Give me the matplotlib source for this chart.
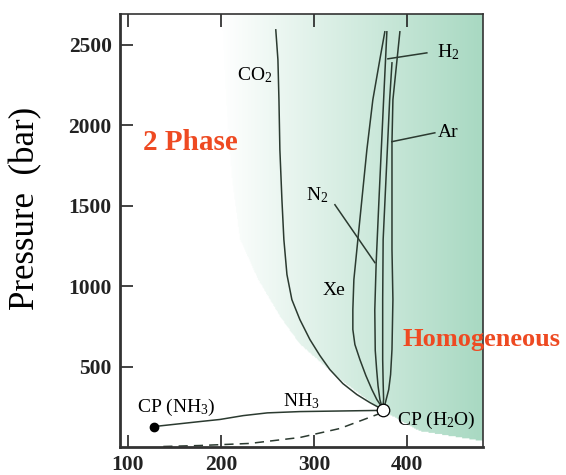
'''
plot.py

Phase diagram of water + gas binaries (critical curves).
'''

import matplotlib as mpl
import matplotlib.pyplot as plt
import numpy as np

mpl.rcParams['font.family']      = 'serif'
mpl.rcParams['font.serif']       = ['Liberation Serif', 'DejaVu Serif']
mpl.rcParams['mathtext.fontset'] = 'custom'
mpl.rcParams['mathtext.rm']      = 'Liberation Serif'
mpl.rcParams['mathtext.it']      = 'Liberation Serif:italic'

# ---------------------------------------------------------------------------- #
# data (temperature in C, pressure in bar)

T_co2 = [259, 261.3, 262.4, 263.4, 265.6, 267.7, 271, 276.3, 284.9, 295.7,
         306.5, 317.2, 331.2, 346.2, 360.2, 372]
P_co2 = [2593, 2407, 2158, 1848, 1537, 1289, 1072, 916, 792, 668, 568, 481,
         394, 326, 276, 239]

T_xe = [376.3, 370.9, 363.4, 357, 351.6, 347.3, 343, 341.9, 341.9, 344.1,
        349.5, 355.9, 362.4, 367.7, 372]
P_xe = [2581, 2407, 2158, 1848, 1537, 1289, 1040, 854, 730, 637, 543, 444,
        357, 295, 258]

T_n2 = [378.5, 375, 370, 367, 365.5, 366, 367.5, 369, 371, 374]
P_n2 = [2581, 2158, 1537, 1146, 850, 600, 481, 380, 295, 233]

T_h2 = [384, 381.5, 377.5, 374.5, 374, 374, 374.5, 375, 374]
P_h2 = [2388, 2158, 1661, 1289, 916, 543, 400, 295, 233]

T_ar = [392.5, 385, 384, 384, 385, 384, 382.5, 380.5, 375]
P_ar = [2581, 2158, 1897, 1227, 916, 606, 450, 357, 233]

T_nh3 = [128, 177.4, 198.9, 224, 250, 284.9, 367.7]
P_nh3 = [127, 158, 171, 195, 212, 220, 227]

T_dash = [138, 177, 231, 285, 328, 371]
P_dash = [3, 9, 22, 59, 115, 208]

T_cp_h2o, P_cp_h2o = 374, 227
T_cp_nh3, P_cp_nh3 = 128, 127

# edge of the homogeneous region
T_edge = [201.1, 205.4, 211.8, 220.4, 239.8, 263.4, 284.9, 328, 371, 414,
          481.7]
P_edge = [2693, 2158, 1661, 1289, 1040, 810, 637, 419, 233, 96, 34]

xticks = [100, 200, 300, 400]
yticks = [500, 1000, 1500, 2000, 2500]

# ---------------------------------------------------------------------------- #

xlim = (91.4, 481.7)
ylim = (0, 2693)
line_color = '#2b3a30'
red = '#ee4a22'

fig = plt.figure(figsize=(5.66, 4.75), dpi=100)
ax = fig.add_axes([0.212, 0.059, 0.641, 0.912])

# green shading, fading from white on the left
TT, PP = np.meshgrid(np.linspace(xlim[0], xlim[1], 400),
                     np.linspace(ylim[0], ylim[1], 400))
T_b = np.interp(PP, P_edge[::-1], T_edge[::-1])
inside = TT > T_b
frac = np.clip((TT - 200) / (xlim[1] - 200), 0, 1)
green = np.array([0.66, 0.85, 0.76])
img = np.ones(TT.shape + (4,))
for i in range(3):
    img[..., i] = 1 - frac * (1 - green[i])
img[..., 3] = inside * 1.0
ax.imshow(img, extent=(xlim[0], xlim[1], ylim[0], ylim[1]), origin='lower',
          aspect='auto', interpolation='bilinear', zorder=0)

lw = 1.1
for T, P in [(T_co2, P_co2), (T_xe, P_xe), (T_n2, P_n2), (T_h2, P_h2),
             (T_ar, P_ar), (T_nh3, P_nh3)]:
    ax.plot(T, P, color=line_color, linewidth=lw, zorder=2)
ax.plot(T_dash, P_dash, color=line_color, linewidth=lw, linestyle=(0, (6, 4)),
        zorder=2)

ax.plot(T_cp_nh3, P_cp_nh3, marker='o', markersize=6, color='k', zorder=3)
ax.plot(T_cp_h2o, P_cp_h2o, marker='o', markersize=9, markerfacecolor='white',
        markeredgecolor='k', markeredgewidth=0.9, zorder=3)

# leader lines
ax.plot([379.6, 421.5], [2413, 2450], color=line_color, linewidth=lw)
ax.plot([383.9, 430.1], [1898, 1953], color=line_color, linewidth=lw)
ax.plot([322.6, 365.6], [1506, 1146], color=line_color, linewidth=lw)

fs = 14
ax.text(255, 2314, r'CO$_{\mathregular{2}}$', fontsize=fs, ha='right', va='center')
ax.text(432, 2457, r'H$_{\mathregular{2}}$', fontsize=fs, ha='left', va='center')
ax.text(433, 1953, 'Ar', fontsize=fs, ha='left', va='center')
ax.text(303, 1568, r'N$_{\mathregular{2}}$', fontsize=fs, ha='center', va='center')
ax.text(321.5, 972, 'Xe', fontsize=fs, ha='center', va='center')
ax.text(286, 283, r'NH$_{\mathregular{3}}$', fontsize=fs, ha='center', va='center')
ax.text(151.6, 245, r'CP (NH$_{\mathregular{3}}$)', fontsize=fs, ha='center', va='center')
ax.text(389, 165, r'CP (H$_{\mathregular{2}}$O)', fontsize=fs, ha='left', va='center')

ax.text(167, 1891, '2 Phase', fontsize=21, fontweight='bold', color=red,
        ha='center', va='center')
ax.text(395.7, 668, 'Homogeneous', fontsize=19, fontweight='bold', color=red,
        ha='left', va='center', clip_on=False)

ax.set_xlim(xlim)
ax.set_ylim(ylim)
ax.set_xticks(xticks)
ax.set_yticks(yticks)
ax.tick_params(direction='in', length=9, width=1.2, top=True, labelsize=15.5,
               pad=6, colors='#222222')
for lab in ax.get_xticklabels() + ax.get_yticklabels():
    lab.set_fontweight('bold')
ax.set_ylabel('Pressure  (bar)', fontsize=25)
ax.yaxis.set_label_coords(-0.215, 0.55)

for side in ['left', 'bottom']:
    ax.spines[side].set_linewidth(2.0)
    ax.spines[side].set_color('#333333')
for side in ['top', 'right']:
    ax.spines[side].set_linewidth(1.2)
    ax.spines[side].set_color('#333333')

plt.savefig('out.png', dpi=100)
